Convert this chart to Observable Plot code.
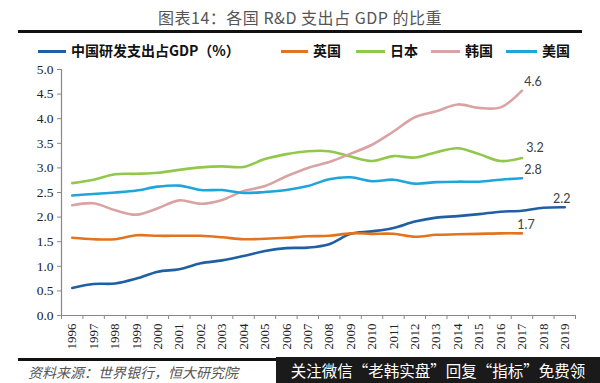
<!DOCTYPE html>
<html><head><meta charset="utf-8">
<script src="https://cdn.jsdelivr.net/npm/d3@7"></script>
<script src="https://cdn.jsdelivr.net/npm/@observablehq/plot@0.6"></script>
<style>
html,body{margin:0;padding:0;background:#fff;}
body{width:600px;height:383px;overflow:hidden;position:relative;font-family:"Noto Sans CJK SC",sans-serif;}
#chart{position:absolute;left:0;top:0;}
.title{position:absolute;left:0;width:600px;top:6px;text-align:center;font-size:16px;color:#555;line-height:22px;letter-spacing:0.5px;}
.rule{position:absolute;left:18px;width:564px;height:3px;background:#111;}
.legend{position:absolute;top:40px;left:0;height:20px;font-size:14px;font-weight:bold;color:#111;}
.legend .item{position:absolute;top:0;white-space:nowrap;line-height:20px;}
.legend .sw{display:inline-block;width:28px;height:2.6px;vertical-align:middle;margin-right:5px;position:relative;top:-1px;}
.caption{position:absolute;left:28px;top:362px;font-size:14px;font-style:italic;color:#555;line-height:20px;}
.wm{position:absolute;left:276px;top:357px;width:324px;height:26px;background:#1a1a1a;color:#fff;font-size:15.5px;line-height:26px;text-align:center;white-space:nowrap;overflow:hidden;}
</style></head><body>
<div id="chart"></div>
<div class="title">图表14：各国 R&amp;D 支出占 GDP 的比重</div>
<div class="rule" style="top:30px"></div>
<div class="legend" id="legend"></div>
<div class="rule" style="top:358px"></div>
<div class="caption">资料来源：世界银行，恒大研究院</div>
<div class="wm">关注微信“老韩实盘”回复“指标”免费领</div>
<script>
const years = [1996,1997,1998,1999,2000,2001,2002,2003,2004,2005,2006,2007,2008,2009,2010,2011,2012,2013,2014,2015,2016,2017,2018,2019];
const seriesNames = ["中国研发支出占GDP（%）","英国","日本","韩国","美国"];
const seriesColors = ["#1f5fa3","#e2731f","#92c84a","#d9a3a3","#1ea5dc"];
const china = [0.56,0.64,0.65,0.75,0.89,0.94,1.06,1.12,1.21,1.31,1.37,1.38,1.45,1.66,1.71,1.78,1.91,1.99,2.02,2.06,2.11,2.13,2.19,2.20];
const uk    = [1.58,1.55,1.55,1.63,1.62,1.62,1.62,1.59,1.55,1.56,1.58,1.61,1.62,1.67,1.66,1.66,1.60,1.64,1.65,1.66,1.67,1.67];
const japan = [2.69,2.76,2.87,2.88,2.90,2.96,3.01,3.03,3.02,3.18,3.28,3.34,3.34,3.23,3.14,3.24,3.21,3.32,3.40,3.28,3.14,3.20];
const korea = [2.24,2.28,2.14,2.05,2.18,2.34,2.27,2.35,2.53,2.63,2.83,3.00,3.12,3.29,3.47,3.74,4.03,4.15,4.29,4.22,4.23,4.57];
const usa   = [2.44,2.47,2.50,2.54,2.62,2.64,2.55,2.55,2.49,2.51,2.55,2.63,2.77,2.81,2.73,2.76,2.68,2.71,2.72,2.72,2.76,2.79];
const yTicks = [0,0.5,1,1.5,2,2.5,3,3.5,4,4.5,5];

const seriesValues = [china, uk, japan, korea, usa];
const data = [];
seriesValues.forEach((vals, s) => vals.forEach((v, i) => data.push({name: seriesNames[s], year: years[i], value: v})));
const last = seriesValues.map((vals, s) => ({name: seriesNames[s], year: years[vals.length - 1], value: vals[vals.length - 1]}));
const boundaries = years.map(y => y - 0.5).concat([years[years.length - 1] + 0.5]);

const labelFont = {fontFamily: "Lato, 'Open Sans', sans-serif", fontSize: 12.5, fill: "#404040", text: d => d.value.toFixed(1)};
const offsets = {"中国研发支出占GDP（%）": [-3, -8], "英国": [4, -8], "日本": [13, -10], "韩国": [11, -9], "美国": [11, -8]};

const chart = Plot.plot({
  width: 600, height: 383,
  marginTop: 69, marginBottom: 68, marginLeft: 61, marginRight: 25,
  style: {background: "transparent", overflow: "visible"},
  x: {domain: [years[0] - 0.5, years[years.length - 1] + 0.5], label: null},
  y: {domain: [0, 5], label: null},
  color: {domain: seriesNames, range: seriesColors},
  marks: [
    Plot.axisY({ticks: yTicks, tickFormat: d => d.toFixed(1), tickSize: 4, tickPadding: 4, stroke: "#888", fill: "#222", fontSize: 13.5, fontFamily: "'Liberation Serif', serif", label: null}),
    Plot.axisX({ticks: years, tickSize: 0, tickPadding: 8, tickRotate: -90, tickFormat: d => String(d), fill: "#222", fontSize: 13, fontFamily: "'Liberation Serif', serif", label: null}),
    Plot.axisX({ticks: boundaries, tickSize: 4, tickFormat: () => "", stroke: "#888", label: null}),
    Plot.ruleX([years[0] - 0.5], {stroke: "#888", strokeWidth: 1.2}),
    Plot.ruleY([0], {stroke: "#888", strokeWidth: 1.2}),
    Plot.line(data, {x: "year", y: "value", z: "name", stroke: "name", strokeWidth: 2.6, curve: "catmull-rom"}),
    ...seriesNames.map(n => Plot.text(last.filter(d => d.name === n), {x: "year", y: "value", dx: offsets[n][0], dy: offsets[n][1], ...labelFont}))
  ]
});
document.getElementById("chart").appendChild(chart);

const legendPos = [[38, 71], [281, 313], [356, 390], [431, 465], [506, 542]];
const legend = document.getElementById("legend");
seriesNames.forEach((n, i) => {
  const sw = document.createElement("div");
  sw.className = "item";
  sw.style.left = legendPos[i][0] + "px";
  sw.innerHTML = `<span class="sw" style="background:${seriesColors[i]};width:${legendPos[i][1] - legendPos[i][0] - 5}px"></span>${n}`;
  legend.appendChild(sw);
});
</script>
</body></html>
